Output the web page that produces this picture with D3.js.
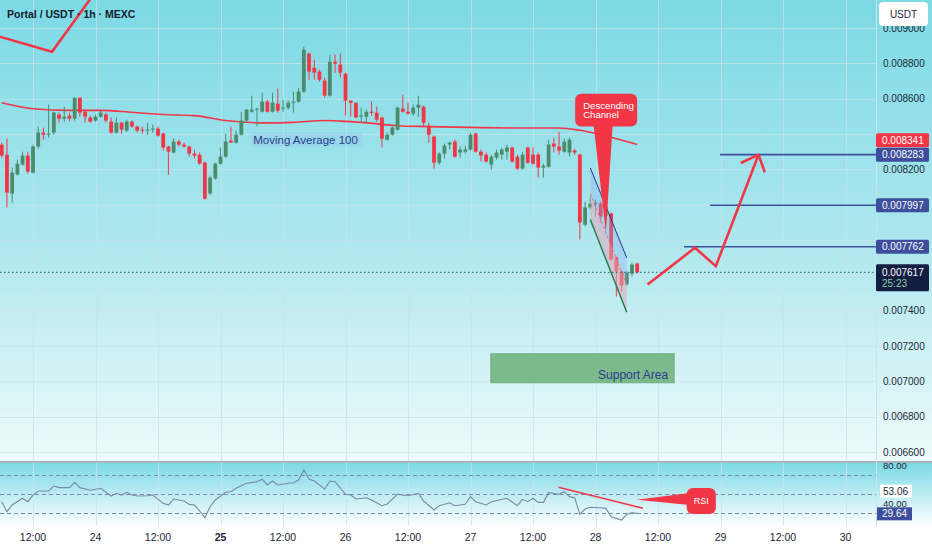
<!DOCTYPE html>
<html><head><meta charset="utf-8">
<script src="https://cdn.jsdelivr.net/npm/d3@7"></script>
<style>html,body{margin:0;padding:0;background:#fff;overflow:hidden}svg{display:block}</style>
</head><body><svg id="c" width="932" height="550"></svg>
<script>
// ---------------- DATA ----------------
const firstBar = Date.UTC(2024, 0, 23, 6); // 23, 06:00 (1h bars)
const opens = [0.008340,0.008283,0.008063,0.008170,0.008227,0.008278,0.008181,0.008329,0.008408,0.008396,
0.008408,0.008510,0.008487,0.008504,0.008487,0.008606,0.008526,0.008493,0.008476,0.008498,
0.008510,0.008470,0.008408,0.008464,0.008419,0.008470,0.008442,0.008425,0.008419,0.008425,
0.008430,0.008402,0.008329,0.008295,0.008357,0.008340,0.008329,0.008289,0.008283,0.008238,
0.008063,0.008148,0.008232,0.008272,0.008362,0.008351,0.008396,0.008476,0.008526,0.008538,
0.008526,0.008583,0.008526,0.008572,0.008543,0.008549,0.008577,0.008583,0.008640,0.008855,
0.008775,0.008753,0.008702,0.008617,0.008809,0.008792,0.008741,0.008589,0.008577,0.008498,
0.008498,0.008526,0.008521,0.008493,0.008368,0.008396,0.008425,0.008543,0.008526,0.008515,
0.008549,0.008555,0.008447,0.008385,0.008238,0.008289,0.008340,0.008357,0.008295,0.008300,
0.008312,0.008402,0.008300,0.008283,0.008227,0.008266,0.008283,0.008300,0.008323,0.008272,
0.008204,0.008323,0.008283,0.008283,0.008210,0.008215,0.008346,0.008329,0.008300,0.008295,
0.008306,0.008283,0.007887,0.007984,0.008001,0.008006,0.007938,0.007950,0.007701,0.007622,
0.007548,0.007610,0.007667];
const highs = [0.008351,0.008374,0.008210,0.008255,0.008300,0.008300,0.008340,0.008442,0.008436,0.008566,
0.008526,0.008521,0.008555,0.008521,0.008606,0.008606,0.008538,0.008504,0.008510,0.008532,
0.008521,0.008493,0.008493,0.008470,0.008481,0.008476,0.008447,0.008442,0.008464,0.008453,
0.008442,0.008408,0.008334,0.008374,0.008368,0.008351,0.008334,0.008312,0.008295,0.008244,
0.008165,0.008238,0.008323,0.008402,0.008442,0.008419,0.008526,0.008543,0.008617,0.008549,
0.008634,0.008594,0.008634,0.008657,0.008594,0.008589,0.008640,0.008662,0.008894,0.008860,
0.008821,0.008764,0.008719,0.008849,0.008849,0.008855,0.008747,0.008589,0.008577,0.008549,
0.008538,0.008583,0.008555,0.008498,0.008408,0.008442,0.008555,0.008623,0.008577,0.008566,
0.008617,0.008560,0.008464,0.008391,0.008295,0.008346,0.008357,0.008368,0.008329,0.008334,
0.008408,0.008408,0.008312,0.008295,0.008283,0.008312,0.008323,0.008340,0.008329,0.008283,
0.008300,0.008329,0.008323,0.008295,0.008232,0.008368,0.008379,0.008413,0.008374,0.008379,
0.008317,0.008289,0.008017,0.008046,0.008029,0.008017,0.008001,0.007955,0.007706,0.007627,
0.007627,0.007672,0.007672];
const lows = [0.008266,0.007984,0.008012,0.008165,0.008221,0.008176,0.008176,0.008317,0.008368,0.008379,
0.008396,0.008464,0.008470,0.008470,0.008476,0.008498,0.008464,0.008464,0.008470,0.008493,
0.008464,0.008402,0.008402,0.008402,0.008413,0.008436,0.008408,0.008402,0.008396,0.008408,
0.008385,0.008306,0.008170,0.008289,0.008329,0.008323,0.008272,0.008261,0.008227,0.008029,
0.008057,0.008142,0.008227,0.008266,0.008351,0.008346,0.008391,0.008470,0.008521,0.008442,
0.008521,0.008521,0.008521,0.008521,0.008526,0.008538,0.008521,0.008577,0.008634,0.008707,
0.008707,0.008696,0.008606,0.008611,0.008747,0.008719,0.008504,0.008498,0.008493,0.008470,
0.008464,0.008504,0.008470,0.008323,0.008362,0.008391,0.008419,0.008521,0.008510,0.008504,
0.008498,0.008442,0.008351,0.008204,0.008227,0.008261,0.008312,0.008266,0.008266,0.008289,
0.008306,0.008295,0.008244,0.008238,0.008198,0.008255,0.008255,0.008255,0.008238,0.008198,
0.008198,0.008232,0.008227,0.008153,0.008153,0.008210,0.008295,0.008283,0.008295,0.008272,
0.008283,0.007803,0.007876,0.007972,0.007933,0.007899,0.007904,0.007684,0.007480,0.007508,
0.007542,0.007593,0.007610];
const closes = [0.008278,0.008068,0.008181,0.008232,0.008278,0.008187,0.008329,0.008408,0.008396,0.008402,
0.008521,0.008487,0.008498,0.008487,0.008606,0.008521,0.008498,0.008470,0.008498,0.008521,
0.008476,0.008408,0.008464,0.008425,0.008470,0.008442,0.008419,0.008419,0.008425,0.008430,
0.008391,0.008323,0.008300,0.008357,0.008340,0.008329,0.008289,0.008278,0.008232,0.008034,
0.008153,0.008232,0.008272,0.008357,0.008351,0.008396,0.008476,0.008538,0.008538,0.008543,
0.008583,0.008526,0.008577,0.008532,0.008549,0.008577,0.008583,0.008640,0.008877,0.008753,
0.008747,0.008707,0.008617,0.008809,0.008798,0.008747,0.008589,0.008577,0.008493,0.008504,
0.008526,0.008521,0.008481,0.008374,0.008396,0.008436,0.008549,0.008526,0.008515,0.008549,
0.008566,0.008464,0.008396,0.008238,0.008289,0.008334,0.008351,0.008272,0.008312,0.008312,
0.008396,0.008300,0.008278,0.008244,0.008272,0.008295,0.008312,0.008323,0.008244,0.008204,
0.008283,0.008238,0.008232,0.008210,0.008221,0.008340,0.008329,0.008306,0.008357,0.008368,
0.008295,0.007899,0.007984,0.008006,0.008012,0.007933,0.007989,0.007690,0.007622,0.007542,
0.007616,0.007661,0.007617];

// Moving Average 100 (read at sample bars)
const maBars   = [0,6,13,19,25,31,37,43,50,56,62,65,69,76,82,92,100,107,111,115,122];
const maValues = [0.008577,0.008543,0.008534,0.008534,0.008523,0.008510,0.008504,0.008476,0.008463,0.008466,
                  0.008476,0.008473,0.008466,0.008447,0.008442,0.008436,0.008434,0.008434,0.008421,0.008396,0.008341];

// RSI (vertices)
const rsiBars = [0,1,2,4,5,6,7,9,10,11,13,14,15,17,19,21,22,23,24,25,26,28,29,31,32,33,35,36,37,38,39,40,41,43,44,45,47,49,50,51,52,53,55,56,57,58,59,60,62,63,64,66,67,68,70,71,73,74,76,78,80,81,83,84,86,87,89,90,91,93,94,97,99,100,101,102,103,104,105,107,108,109,110,111,112,113,115,116,117,119,120,121,122];
const rsiValues = [41.9,31.4,38.4,45.5,41.9,48.9,53.2,53.2,58.4,56.7,56.7,62.3,56.7,53.9,56.0,47.9,50.7,48.9,51.8,48.9,47.9,48.2,48.9,40.2,38.4,44.7,42.6,39.1,38.4,32.1,25.1,36.6,43.7,51.8,52.4,56.0,61.3,62.9,65.5,59.5,63.7,59.5,61.3,61.9,64.7,75.3,65.8,63.7,55.3,63.7,62.9,49.7,48.9,44.7,46.1,43.7,37.7,39.5,49.7,48.2,50.7,42.6,33.2,37.7,40.8,37.7,39.1,47.2,41.9,38.4,41.9,45.5,37.7,44.4,41.9,45.5,41.2,41.2,51.4,49.7,52.4,47.2,46.1,28.6,34.2,36.0,35.6,34.9,26.1,22.6,28.6,30.3,29.64];

const rsiLevels = [70, 50, 30];
const rsiAxisTicks = [80, 40];
const title = "Portal / USDT · 1h · MEXC";
const lastPrice = 0.007617, countdown = "25:23";
const maLast = 0.008341, rsiLast = 29.64, rsiMaLast = 53.06;
const targets = [0.008283, 0.007997, 0.007762];
const targetStartBars = [137.9, 136, 131];

// annotations (bar index, price / rsi)
const oldArrow = [[-0.4,0.008951],[9.65,0.008866],[16.9,0.009160]];
const arrowPath = [[124,0.007548],[133.1,0.007756],[137.1,0.007652],[145.3,0.008283]];
const arrowHead = [[141.9,0.008236],[145.3,0.008283],[146.5,0.008183]];
const chanUpper = [[113,0.008208],[120,0.007699]];
const chanLower = [[113,0.007916],[120,0.007391]];
const supportZone = {b0:93.9, b1:129.1, top:0.007156, bottom:0.006992, label:"Support Area"};
const chanCallout = {b0:110.1, b1:122, top:0.008628, bottom:0.008442, tipBar:116, tipPrice:0.007842, lines:["Descending","Channel"]};
const rsiTrend = [[106.9,57.1],[123.1,34.9]];
const rsiCallout = {b0:131.5, b1:137.1, top:56.3, bottom:28.9, tipBar:121.9, tipVal:44.0, text:"RSI"};
const maLabel = {b0:47.9, b1:69.2, top:0.008408, bottom:0.008329, text:"Moving Average 100"};

// ---------------- LAYOUT ----------------
const W = 932, H = 550, PR = 876, mainBottom = 461, rsiTop = 463, rsiBottom = 526;
const FONT = "'Liberation Sans', Arial, sans-serif";
const GREEN = "#4b8c6c", RED = "#f23645", BLUE = "#3c4e9c", TXT = "#1c2838";

const x = d3.scaleUtc()
  .domain([new Date(Date.UTC(2024,0,23,12)), new Date(Date.UTC(2024,0,30,0))])
  .range([33, 845.5]);
const xb = k => x(new Date(firstBar + k * 3600e3));
const y = d3.scaleLinear().domain([0.0066, 0.009]).range([452, 28]);
const yr = d3.scaleLinear().domain([30, 70]).range([513, 475]);

const svg = d3.select("#c");
const defs = svg.append("defs");
function grad(id, stops) {
  const g = defs.append("linearGradient").attr("id", id).attr("x1",0).attr("y1",0).attr("x2",0).attr("y2",1);
  stops.forEach(s => g.append("stop").attr("offset", s[0]).attr("stop-color", s[1]));
}
grad("gMain", [["0%","#7cd9e5"],["55%","#b0e8ee"],["100%","#eefafb"]]);
grad("gRsi", [["0%","#7cd9e5"],["100%","#ffffff"]]);
defs.append("clipPath").attr("id","clipMain").append("rect").attr("x",0).attr("y",0).attr("width",PR).attr("height",mainBottom);
defs.append("clipPath").attr("id","clipRsi").append("rect").attr("x",0).attr("y",rsiTop).attr("width",PR).attr("height",rsiBottom-rsiTop);
defs.append("clipPath").attr("id","clipRsiAxis").append("rect").attr("x",PR).attr("y",rsiTop).attr("width",W-PR).attr("height",rsiBottom-rsiTop);

// backgrounds
svg.append("rect").attr("width",W).attr("height",H).attr("fill","#fff");
svg.append("rect").attr("x",0).attr("y",0).attr("width",W).attr("height",mainBottom).attr("fill","url(#gMain)");
svg.append("rect").attr("x",0).attr("y",rsiTop).attr("width",W).attr("height",rsiBottom-rsiTop).attr("fill","url(#gRsi)");

// grid
const timeTicks = x.ticks(d3.utcHour.every(12));
const priceTicks = y.ticks(12);
const grid = svg.append("g").attr("stroke","rgba(200,226,233,0.75)").attr("stroke-width",1);
grid.selectAll(".v").data(timeTicks).join("line")
  .attr("x1",d=>Math.round(x(d))+0.5).attr("x2",d=>Math.round(x(d))+0.5).attr("y1",0).attr("y2",mainBottom);
grid.selectAll(".v2").data(timeTicks).join("line")
  .attr("x1",d=>Math.round(x(d))+0.5).attr("x2",d=>Math.round(x(d))+0.5).attr("y1",rsiTop).attr("y2",rsiBottom);
grid.selectAll(".h").data(priceTicks).join("line")
  .attr("x1",0).attr("x2",PR).attr("y1",d=>Math.round(y(d))+0.5).attr("y2",d=>Math.round(y(d))+0.5);

// ---------------- MAIN PANE ----------------
const main = svg.append("g").attr("clip-path","url(#clipMain)");

// support zone
main.append("rect").attr("x",xb(supportZone.b0)).attr("y",y(supportZone.top))
  .attr("width",xb(supportZone.b1)-xb(supportZone.b0)).attr("height",y(supportZone.bottom)-y(supportZone.top))
  .attr("fill","#7cba8b").attr("stroke","#6fae80").attr("stroke-width",1);
main.append("text").attr("x",xb(supportZone.b1)-6).attr("y",y(supportZone.bottom)-4)
  .attr("text-anchor","end").attr("font-family",FONT).attr("font-size",12).attr("fill","#2b3d8f").text(supportZone.label);

// MA 100
main.append("path").datum(maBars.map((b,i)=>[b,maValues[i]]))
  .attr("d", d3.line().x(d=>xb(d[0])).y(d=>y(d[1])).curve(d3.curveMonotoneX))
  .attr("fill","none").attr("stroke",RED).attr("stroke-width",1.6);

// candles
const bars = d3.range(opens.length);
const cw = 3.8;
const cg = main.append("g");
cg.selectAll("line").data(bars).join("line")
  .attr("x1",k=>xb(k)).attr("x2",k=>xb(k)).attr("y1",k=>y(highs[k])).attr("y2",k=>y(lows[k]))
  .attr("stroke",k=>closes[k]>=opens[k]?GREEN:RED).attr("stroke-width",1);
cg.selectAll("rect").data(bars).join("rect")
  .attr("x",k=>xb(k)-cw/2).attr("width",cw)
  .attr("y",k=>y(Math.max(opens[k],closes[k])))
  .attr("height",k=>Math.max(1,Math.abs(y(opens[k])-y(closes[k]))))
  .attr("fill",k=>closes[k]>=opens[k]?GREEN:RED);

// MA label
main.append("rect").attr("x",xb(maLabel.b0)).attr("y",y(maLabel.top))
  .attr("width",xb(maLabel.b1)-xb(maLabel.b0)).attr("height",y(maLabel.bottom)-y(maLabel.top))
  .attr("fill","rgba(150,195,235,0.35)");
main.append("text").attr("x",xb(maLabel.b0)+2).attr("y",(y(maLabel.top)+y(maLabel.bottom))/2+4)
  .attr("font-family",FONT).attr("font-size",11.5).attr("fill","#283c8c").text(maLabel.text);

// descending channel
const midStart = [chanUpper[0][0], (chanUpper[0][1]+chanLower[0][1])/2];
const midEnd = [chanUpper[1][0], (chanUpper[1][1]+chanLower[1][1])/2];
const P = d => [xb(d[0]), y(d[1])];
main.append("polygon").attr("points",[chanUpper[0],chanUpper[1],midEnd,midStart].map(P).join(" "))
  .attr("fill","rgba(140,170,240,0.32)");
main.append("polygon").attr("points",[midStart,midEnd,chanLower[1],chanLower[0]].map(P).join(" "))
  .attr("fill","rgba(225,170,190,0.55)");
main.append("line").attr("x1",P(midStart)[0]).attr("y1",P(midStart)[1]).attr("x2",P(midEnd)[0]).attr("y2",P(midEnd)[1])
  .attr("stroke","#e07585").attr("stroke-dasharray","3,2").attr("stroke-width",1);
main.append("line").attr("x1",P(chanUpper[0])[0]).attr("y1",P(chanUpper[0])[1]).attr("x2",P(chanUpper[1])[0]).attr("y2",P(chanUpper[1])[1])
  .attr("stroke","#283593").attr("stroke-width",1);
main.append("line").attr("x1",P(chanLower[0])[0]).attr("y1",P(chanLower[0])[1]).attr("x2",P(chanLower[1])[0]).attr("y2",P(chanLower[1])[1])
  .attr("stroke","#2e7d52").attr("stroke-width",1.5);

// current price dotted line
main.append("line").attr("x1",0).attr("x2",PR).attr("y1",y(lastPrice)).attr("y2",y(lastPrice))
  .attr("stroke","#2a6470").attr("stroke-dasharray","1.5,2.5").attr("stroke-width",1);

// target lines
main.selectAll(".tl").data(targets).join("line")
  .attr("x1",(d,i)=>xb(targetStartBars[i])).attr("x2",PR).attr("y1",d=>y(d)).attr("y2",d=>y(d))
  .attr("stroke",BLUE).attr("stroke-width",1.6);

// arrows
const lineP = d3.line().x(d=>xb(d[0])).y(d=>y(d[1]));
[oldArrow, arrowPath, arrowHead].forEach(a =>
  main.append("path").attr("d",lineP(a)).attr("fill","none").attr("stroke",RED)
    .attr("stroke-width",2.6).attr("stroke-linejoin","miter").attr("stroke-linecap","butt"));

// callout "Descending Channel"
{
  const c = chanCallout;
  const bx0 = xb(c.b0), bx1 = xb(c.b1), by0 = y(c.top), by1 = y(c.bottom);
  main.append("polygon").attr("points",[[xb(c.tipBar-2.4),by1-3],[xb(c.tipBar+1.3),by1-3],[xb(c.tipBar),y(c.tipPrice)]].join(" "))
    .attr("fill",RED);
  main.append("rect").attr("x",bx0).attr("y",by0).attr("width",bx1-bx0).attr("height",by1-by0).attr("rx",6).attr("fill",RED);
  c.lines.forEach((t,i)=> main.append("text").attr("x",bx0+8).attr("y",by0+15+i*9.5)
    .attr("font-family",FONT).attr("font-size",9.6).attr("fill","#fff").text(t));
}

// separator
svg.append("line").attr("x1",0).attr("x2",W).attr("y1",462).attr("y2",462).attr("stroke","#a7b2ba").attr("stroke-width",2);

// ---------------- RSI PANE ----------------
const rsi = svg.append("g").attr("clip-path","url(#clipRsi)");
rsi.selectAll(".lv").data(rsiLevels).join("line")
  .attr("x1",0).attr("x2",PR).attr("y1",d=>Math.round(yr(d))+0.5).attr("y2",d=>Math.round(yr(d))+0.5)
  .attr("stroke","#7d8cae").attr("stroke-dasharray","4,3").attr("stroke-width",1);
rsi.append("path").datum(rsiBars.map((b,i)=>[b,rsiValues[i]]))
  .attr("d", d3.line().x(d=>xb(d[0])).y(d=>yr(d[1])))
  .attr("fill","none").attr("stroke","#7a89a4").attr("stroke-width",1.1);
rsi.append("line").attr("x1",xb(rsiTrend[0][0])).attr("y1",yr(rsiTrend[0][1])).attr("x2",xb(rsiTrend[1][0])).attr("y2",yr(rsiTrend[1][1]))
  .attr("stroke",RED).attr("stroke-width",1.5);
{
  const c = rsiCallout;
  const bx0 = xb(c.b0), bx1 = xb(c.b1), by0 = yr(c.top), by1 = yr(c.bottom);
  rsi.append("polygon").attr("points",[[bx0+3,yr(51.1)],[bx0+3,yr(38.4)],[xb(c.tipBar),yr(c.tipVal)]].join(" ")).attr("fill",RED);
  rsi.append("rect").attr("x",bx0).attr("y",by0).attr("width",bx1-bx0).attr("height",by1-by0).attr("rx",6).attr("fill",RED);
  rsi.append("text").attr("x",(bx0+bx1)/2).attr("y",(by0+by1)/2+3.2).attr("text-anchor","middle")
    .attr("font-family",FONT).attr("font-size",9).attr("fill","#fff").text(c.text);
}

// ---------------- RIGHT AXIS ----------------
svg.append("line").attr("x1",PR+0.5).attr("x2",PR+0.5).attr("y1",0).attr("y2",rsiBottom).attr("stroke","#c4e6ec").attr("stroke-width",1);
const fmtP = d3.format(".6f");

// value labels with collision avoidance
const vlabels = [
  {v:maLast, bg:RED, fg:"#fff"},
  {v:targets[0], bg:BLUE, fg:"#fff"},
  {v:targets[1], bg:BLUE, fg:"#fff"},
  {v:targets[2], bg:BLUE, fg:"#fff"}
].map(d=>({...d, cy:y(d.v)})).sort((a,b)=>b.cy-a.cy);
for (let i=1;i<vlabels.length;i++){ if (vlabels[i-1].cy - vlabels[i].cy < 14.5) vlabels[i].cy = vlabels[i-1].cy - 14.5; }
const boxes = vlabels.map(d=>[d.cy-7, d.cy+7]).concat([[y(lastPrice)-8, y(lastPrice)+19]]);
// tick labels hidden where a value box covers them
const visibleTicks = priceTicks.filter(t => !boxes.some(b => y(t)+5 > b[0] && y(t)-5 < b[1]));
svg.append("g").selectAll("text").data(visibleTicks).join("text")
  .attr("x",883).attr("y",d=>y(d)+3.5).attr("font-family",FONT).attr("font-size",10).attr("fill",TXT).text(fmtP);

const vl = svg.append("g");
vlabels.forEach(d=>{
  vl.append("rect").attr("x",PR).attr("y",d.cy-7).attr("width",53).attr("height",14).attr("rx",1.5).attr("fill",d.bg);
  vl.append("text").attr("x",882).attr("y",d.cy+3.5).attr("font-family",FONT).attr("font-size",10).attr("fill",d.fg).text(fmtP(d.v));
});
// last price box
{
  const cy = y(lastPrice);
  vl.append("rect").attr("x",PR).attr("y",cy-8).attr("width",53).attr("height",27).attr("rx",1.5).attr("fill","#141d42");
  vl.append("text").attr("x",882).attr("y",cy+3.5).attr("font-family",FONT).attr("font-size",10).attr("fill","#fff").text(fmtP(lastPrice));
  vl.append("text").attr("x",882).attr("y",cy+15).attr("font-family",FONT).attr("font-size",10).attr("fill","#8fcfa8").text(countdown);
}
// USDT box
svg.append("rect").attr("x",879).attr("y",2).attr("width",49).attr("height",24).attr("rx",4).attr("fill","#fff");
svg.append("text").attr("x",903.5).attr("y",17.5).attr("text-anchor","middle").attr("font-family",FONT).attr("font-size",10).attr("fill",TXT).text("USDT");

// RSI axis
const ra = svg.append("g").attr("clip-path","url(#clipRsiAxis)");
const fmtR = d3.format(".2f");
ra.selectAll(".rt").data(rsiAxisTicks).join("text").attr("x",883).attr("y",d=>yr(d)+3)
  .attr("font-family",FONT).attr("font-size",9.5).attr("fill",TXT).text(fmtR);
ra.append("rect").attr("x",880).attr("y",yr(rsiMaLast)-6.5).attr("width",32).attr("height",13).attr("fill","#fff");
ra.append("text").attr("x",883).attr("y",yr(rsiMaLast)+3.5).attr("font-family",FONT).attr("font-size",10).attr("fill",TXT).text(fmtR(rsiMaLast));
ra.append("rect").attr("x",PR+1).attr("y",yr(rsiLast)-6).attr("width",35).attr("height",13).attr("fill",BLUE);
ra.append("text").attr("x",882).attr("y",yr(rsiLast)+4).attr("font-family",FONT).attr("font-size",10).attr("fill","#fff").text(fmtR(rsiLast));

// ---------------- TIME AXIS ----------------
const fmtT = d => d.getUTCHours()===0 ? String(d.getUTCDate()) : "12:00";
svg.append("g").selectAll("text").data(timeTicks).join("text")
  .attr("x",d=>x(d)).attr("y",541).attr("text-anchor","middle")
  .attr("font-family",FONT).attr("font-size",10.5)
  .attr("font-weight",d=>d.getUTCHours()===0 && d.getUTCDate()===25 ? "bold" : "normal")
  .attr("fill",TXT).text(fmtT);

// title
svg.append("text").attr("x",7).attr("y",18).attr("font-family",FONT).attr("font-size",10.5).attr("font-weight","bold")
  .attr("fill","#131c2e").text(title);
</script>
</body></html>
